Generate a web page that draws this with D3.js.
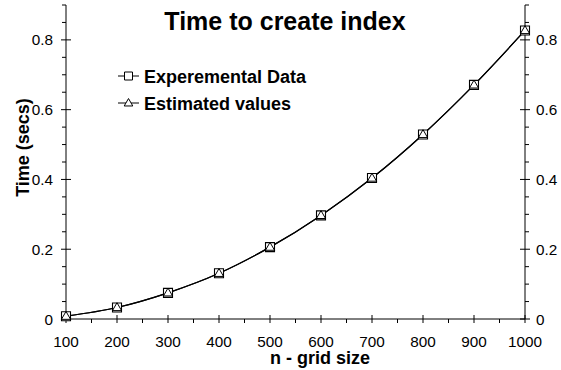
<!DOCTYPE html>
<html>
<head>
<meta charset="utf-8">
<script src="https://cdn.jsdelivr.net/npm/d3@7"></script>
<style>
  html, body { margin: 0; padding: 0; background: #fff; }
  svg { display: block; font-family: "Liberation Sans", Arial, sans-serif; }
</style>
</head>
<body>
<svg id="chart" width="561" height="370"></svg>
<script>
// Grid size (n) against index build time in seconds
const gridSizes = [100, 200, 300, 400, 500, 600, 700, 800, 900, 1000];
const measuredTimes = [0.008, 0.033, 0.075, 0.131, 0.206, 0.297, 0.404, 0.529, 0.671, 0.827];
const estimatedTimes = [0.008, 0.033, 0.075, 0.131, 0.206, 0.297, 0.404, 0.529, 0.671, 0.827];
const xTicks = [100, 200, 300, 400, 500, 600, 700, 800, 900, 1000];
const yTicks = [0, 0.2, 0.4, 0.6, 0.8];
const seriesNames = ["Experemental Data", "Estimated values"];

const svg = d3.select("#chart");
const plotL = 66, plotR = 525, plotT = 5, plotB = 319;

const x = d3.scaleLinear().domain([100, 1000]).range([plotL, plotR]);
const y = d3.scaleLinear().domain([0, 0.9]).range([plotB, plotT]);

const fmtY = v => v === 0 ? "0" : d3.format(".1f")(v);

// Minor ticks every 50 on x and every 0.05 on y, drawn outside the frame
const xMinor = d3.range(150, 1000, 100);
const yMinor = d3.range(1, 19).map(i => i * 0.05).filter(v => Math.abs(v * 5 - Math.round(v * 5)) > 1e-6);

const axes = svg.append("g").attr("stroke", "#000").attr("stroke-width", 1);

// Bottom axis
axes.append("line").attr("x1", plotL).attr("x2", plotR).attr("y1", plotB).attr("y2", plotB);
axes.selectAll(null).data(xTicks).join("line")
  .attr("x1", d => x(d)).attr("x2", d => x(d)).attr("y1", plotB - 4).attr("y2", plotB + 4);
axes.selectAll(null).data(xMinor).join("line")
  .attr("x1", d => x(d)).attr("x2", d => x(d)).attr("y1", plotB).attr("y2", plotB + 4);

// Left and right axes
[[plotL, -1], [plotR, 1]].forEach(([ax, dir]) => {
  axes.append("line").attr("x1", ax).attr("x2", ax).attr("y1", plotT).attr("y2", plotB);
  axes.selectAll(null).data(yTicks).join("line")
    .attr("x1", ax - 5).attr("x2", ax + 5)
    .attr("y1", d => y(d)).attr("y2", d => y(d));
  axes.selectAll(null).data(yMinor).join("line")
    .attr("x1", ax).attr("x2", ax + dir * 4)
    .attr("y1", d => y(d)).attr("y2", d => y(d));
});

// Tick labels
const lab = svg.append("g").attr("font-size", 15.3).attr("fill", "#000");
lab.selectAll(null).data(xTicks).join("text")
  .attr("x", d => x(d)).attr("y", plotB + 28).attr("text-anchor", "middle").text(d => d);
lab.selectAll(null).data(yTicks).join("text")
  .attr("x", plotL - 13).attr("y", d => y(d) + 5.5).attr("text-anchor", "end").text(fmtY);
lab.selectAll(null).data(yTicks).join("text")
  .attr("x", plotR + 11).attr("y", d => y(d) + 5.5).attr("text-anchor", "start").text(fmtY);

// Titles
svg.append("text").attr("x", 285).attr("y", 29.5).attr("text-anchor", "middle")
  .attr("font-size", 25).attr("font-weight", "bold").text("Time to create index");
svg.append("text").attr("x", 320).attr("y", 363.5).attr("text-anchor", "middle")
  .attr("font-size", 18).attr("font-weight", "bold").text("n - grid size");
svg.append("text").attr("transform", "translate(29,147.5) rotate(-90)").attr("text-anchor", "middle")
  .attr("font-size", 18).attr("font-weight", "bold").text("Time (secs)");

// Series curves
const line = d3.line().x(d => x(d[0])).y(d => y(d[1])).curve(d3.curveMonotoneX);
const measured = gridSizes.map((n, i) => [n, measuredTimes[i]]);
const estimated = gridSizes.map((n, i) => [n, estimatedTimes[i]]);
[measured, estimated].forEach(s => {
  svg.append("path").datum(s).attr("d", line)
    .attr("fill", "none").attr("stroke", "#000").attr("stroke-width", 1.2);
});

const sq = d3.symbol().type(d3.symbolSquare).size(81);
const tri = d3.symbol().type(d3.symbolTriangle).size(36);
const sqLegend = d3.symbol().type(d3.symbolSquare).size(64);
const triLegend = d3.symbol().type(d3.symbolTriangle).size(32);

svg.append("g").selectAll("path").data(measured).join("path")
  .attr("transform", d => `translate(${x(d[0])},${y(d[1])})`)
  .attr("d", sq).attr("fill", "#fff").attr("stroke", "#000").attr("stroke-width", 1.1);
svg.append("g").selectAll("path").data(estimated).join("path")
  .attr("transform", d => `translate(${x(d[0])},${y(d[1]) + 0.5})`)
  .attr("d", tri).attr("fill", "none").attr("stroke", "#000").attr("stroke-width", 1);

// Legend
const legend = svg.append("g");
const rows = [
  { name: seriesNames[0], sym: sqLegend, cy: 76, dy: 0 },
  { name: seriesNames[1], sym: triLegend, cy: 103, dy: 0.5 }
];
rows.forEach(r => {
  legend.append("line").attr("x1", 118).attr("x2", 139).attr("y1", r.cy).attr("y2", r.cy)
    .attr("stroke", "#000").attr("stroke-width", 1);
  legend.append("path").attr("d", r.sym).attr("transform", `translate(128.5,${r.cy + r.dy})`)
    .attr("fill", "#fff").attr("stroke", "#000").attr("stroke-width", 1);
  legend.append("text").attr("x", 144).attr("y", r.cy + 6.5)
    .attr("font-size", 18).attr("font-weight", "bold").text(r.name);
});
</script>
</body>
</html>
